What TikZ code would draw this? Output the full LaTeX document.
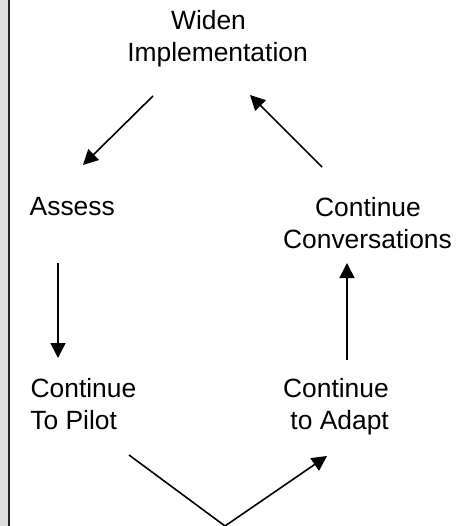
\documentclass[tikz,border=0pt]{standalone}
\usepackage{fontspec}
\setmainfont{Liberation Sans}
\usetikzlibrary{arrows.meta}
\definecolor{barGray}{HTML}{DDDDDD}
\definecolor{barDark}{HTML}{222222}
\tikzset{
  lbl/.style={inner sep=0pt, font=\fontsize{26.4}{32}\selectfont},
  conn/.style={line width=1.6pt, black},
  arr/.style={conn, -{Triangle[length=15pt,width=15pt]}}
}
\begin{document}
\begin{tikzpicture}[x=1pt,y=-1pt]
\useasboundingbox (0,0) rectangle (463,526);
\fill[white] (0,0) rectangle (463,526);
% left bar
\fill[barGray] (0,0) rectangle (8.3,526);
\fill[barDark] (8.3,0) rectangle (10.3,526);

% labels
\node[lbl, anchor=base] (widen1) at (208.5,29.5) {Widen};
\node[lbl, anchor=base] (widen2) at (217.5,61.5) {Implementation};
\node[lbl, anchor=base west] (assess) at (29.5,215.5) {Assess};
\node[lbl, anchor=base] (conv1) at (368,216.5) {Continue};
\node[lbl, anchor=base] (conv2) at (367.5,248.5) {Conversations};
\node[lbl, anchor=base west] (pilot1) at (30.4,397) {Continue};
\node[lbl, anchor=base west] (pilot2) at (30.2,429) {To Pilot};
\node[lbl, anchor=base east] (adapt1) at (389,397) {Continue};
\node[lbl, anchor=base east] (adapt2) at (389,429) {to Adapt};

% connector end points
\coordinate (a1s) at (153,96);
\coordinate (a1e) at (83,165);
\coordinate (a2s) at (322,167);
\coordinate (a2e) at (250,95);
\coordinate (a3s) at (58,263);
\coordinate (a3e) at (58,358);
\coordinate (a4s) at (347,360);
\coordinate (a4e) at (347,263);
\coordinate (a5s) at (129,455);
\coordinate (vtx) at (225,526);
\coordinate (a6e) at (327,456);

\draw[arr] (a1s) -- (a1e);
\draw[arr] (a2s) -- (a2e);
\draw[arr] (a3s) -- (a3e);
\draw[arr] (a4s) -- (a4e);
\draw[conn] (a5s) -- (vtx);
\draw[arr] (vtx) -- (a6e);
\end{tikzpicture}
\end{document}
